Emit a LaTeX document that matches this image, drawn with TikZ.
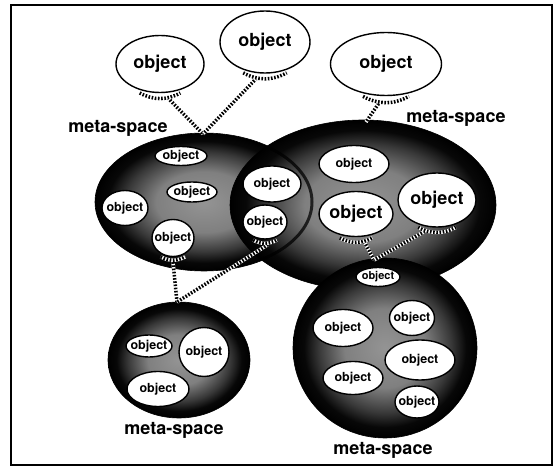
\documentclass[tikz,border=0pt]{standalone}
\usepackage{fontspec}
\setmainfont{TeX Gyre Heros}
\usetikzlibrary{shapes.geometric}
\pgfdeclareradialshading{metashade}{\pgfpoint{0bp}{0bp}}{color(0bp)=(black!42); color(11bp)=(black!50); color(18bp)=(black!78); color(22bp)=(black!97); color(25bp)=(black); color(50bp)=(black)}
\newcommand\objtxt{\makebox[0pt]{object}}
\newcommand\objband[1]{\draw[conn] ([yshift=-3pt]#1.-128) to[bend right=28] ([yshift=-3pt]#1.-52);}
\begin{document}
\begin{tikzpicture}[x=1pt,y=-1pt,
  meta/.style={ellipse, shade, shading=metashade, draw=black, line width=0.6pt, inner sep=0pt},
  obj/.style={ellipse, draw=black, line width=1.4pt, fill=white, inner sep=0pt, font=\fontsize{12.5}{14}\selectfont\bfseries},
  bigtxt/.style={font=\fontsize{18}{20}\selectfont\bfseries},
  tinytxt/.style={font=\fontsize{11}{12}\selectfont\bfseries},
  lbl/.style={font=\fontsize{18}{20}\selectfont\bfseries, inner sep=0pt},
  conn/.style={line width=3.5pt, dash pattern=on 1.6pt off 1.6pt, black, preaction={draw=white, solid, line width=3.5pt}},
  edge/.style={draw=black, line width=3pt, draw opacity=0.75},
  frame/.style={draw=black, line width=2pt}]
\useasboundingbox (0,0) rectangle (558,468);
\draw[frame] (11,5) rectangle (552,465);

% meta-spaces
\node[meta, minimum width=218, minimum height=138] (A) at (204,202) {};
\node[meta, minimum width=266, minimum height=170] (B) at (363,205) {};
% edge of A seen through B
\begin{scope}
  \clip (363,205) ellipse [x radius=133, y radius=85];
  \draw[edge] (204,202) ellipse [x radius=108, y radius=68];
\end{scope}
\node[meta, minimum width=142, minimum height=116] (C) at (179,360) {};
\node[meta, minimum width=184, minimum height=180] (D) at (385,348) {};

% junctions
\coordinate (JA) at (203,134);
\coordinate (JB) at (366,122);
\coordinate (JC) at (177,302);
\coordinate (JD) at (374,260);

% top objects
\node[obj, bigtxt, minimum width=88, minimum height=57] (o1) at (160,64) {\objtxt};
\node[obj, bigtxt, minimum width=90, minimum height=62] (o2) at (265,42) {\objtxt};
\node[obj, bigtxt, minimum width=111, minimum height=63] (o3) at (386,64) {\objtxt};

% objects in A
\node[obj, minimum width=52, minimum height=19] (a1) at (181,156) {\objtxt};
\node[obj, minimum width=50, minimum height=20] (a2) at (192,192) {\objtxt};
\node[obj, minimum width=46, minimum height=35] (a3) at (125,208) {\objtxt};
\node[obj, minimum width=42, minimum height=37] (a4) at (173,238) {\objtxt};
\node[obj, minimum width=58, minimum height=36] (a5) at (272,184) {\objtxt};
\node[obj, minimum width=44, minimum height=34] (a6) at (265,222) {\objtxt};

% objects in B
\node[obj, minimum width=70, minimum height=37] (b1) at (354,164) {\objtxt};
\node[obj, bigtxt, minimum width=74, minimum height=45] (b2) at (356,214) {\objtxt};
\node[obj, bigtxt, minimum width=78, minimum height=54] (b3) at (437,200) {\objtxt};

% objects in C
\node[obj, minimum width=46, minimum height=22] (c1) at (149,346) {\objtxt};
\node[obj, minimum width=50, minimum height=49] (c2) at (204,352) {\objtxt};
\node[obj, minimum width=62, minimum height=35] (c3) at (158,389) {\objtxt};

% objects in D
\node[obj, tinytxt, minimum width=44, minimum height=19] (d1) at (378,277) {\objtxt};
\node[obj, minimum width=45, minimum height=35] (d2) at (412,318) {\objtxt};
\node[obj, minimum width=60, minimum height=37] (d3) at (343,328) {\objtxt};
\node[obj, minimum width=70, minimum height=40] (d4) at (420,360) {\objtxt};
\node[obj, minimum width=60, minimum height=33] (d5) at (353,378) {\objtxt};
\node[obj, minimum width=44, minimum height=32] (d6) at (417,402) {\objtxt};

% connectors
\draw[conn] ([yshift=-5pt]o1.-75) -- (JA);
\draw[conn] ([yshift=-5pt]o2.-105) -- (JA);
\draw[conn] ([yshift=-5pt]o3.-100) -- (JB);
\draw[conn] ([yshift=-5pt]a4.south) -- (JC);
\draw[conn] ([yshift=-5pt]a6.-80) -- (JC);
\draw[conn] ([yshift=-5pt]b2.-70) -- (JD);
\draw[conn] ([yshift=-5pt]b3.-115) -- (JD);

% bands under connected objects
\objband{o1}
\objband{o2}
\objband{o3}
\objband{a4}
\objband{a6}
\objband{b2}
\objband{b3}

% labels
\node[lbl] (LA) at (118,128) {meta-space};
\node[lbl] (LB) at (456,118) {meta-space};
\node[lbl] (LC) at (174,430) {meta-space};
\node[lbl] (LD) at (383,450) {meta-space};
\end{tikzpicture}
\end{document}
